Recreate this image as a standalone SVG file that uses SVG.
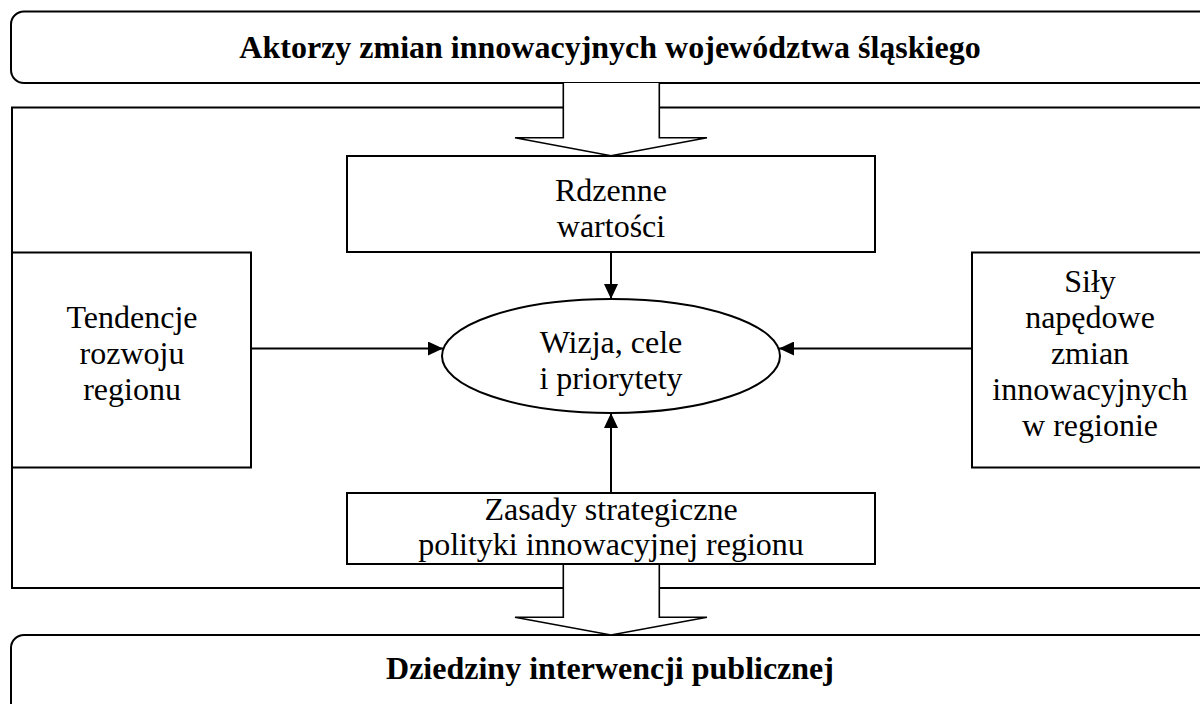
<svg xmlns="http://www.w3.org/2000/svg" width="1200" height="704" viewBox="0 0 1200 704">
<style>
.box{fill:#fff;stroke:#000;stroke-width:2}
.blk{fill:#fff;stroke:#000;stroke-width:1.6;stroke-linejoin:miter}
.t{font-family:"Liberation Serif","Times New Roman",serif;font-size:32px;fill:#000;text-anchor:middle}
.b{font-weight:bold}
.c{stroke:#000;stroke-width:2;fill:none}
</style>
<defs>
<marker id="ah" markerWidth="16" markerHeight="14" refX="15" refY="7" orient="auto" markerUnits="userSpaceOnUse">
<path d="M0,0 L15,7 L0,14 Z" fill="#000"/>
</marker>
</defs>
<g id="top">
<rect class="box" x="11" y="11.5" width="1210" height="71.5" rx="13"/>
<text class="t b" x="610" y="58">Aktorzy zmian innowacyjnych województwa śląskiego</text>
</g>
<g id="outer">
<rect class="box" x="12" y="107.5" width="1210" height="480.5"/>
</g>
<g id="bottom">
<rect class="box" x="11" y="635" width="1210" height="90" rx="13"/>
<text class="t b" x="610" y="679">Dziedziny interwencji publicznej</text>
</g>
<g id="arrow-top">
<path class="blk" d="M563.3,83 V137.7 H515 L611,155.7 L707,137.7 H659.3 V83"/>
</g>
<g id="arrow-bottom">
<path class="blk" d="M563.3,564 V617.3 H515 L611,635 L707,617.3 H659.3 V564"/>
</g>
<g id="rdzenne">
<rect class="box" x="347" y="156" width="528" height="96"/>
<text class="t" x="611" y="201">Rdzenne</text>
<text class="t" x="611" y="237">wartości</text>
</g>
<g id="tendencje">
<rect class="box" x="12" y="252.5" width="239" height="215"/>
<text class="t" x="132" y="328">Tendencje</text>
<text class="t" x="132" y="364">rozwoju</text>
<text class="t" x="132" y="400">regionu</text>
</g>
<g id="sily">
<rect class="box" x="972" y="252.5" width="250" height="215"/>
<text class="t" x="1090" y="292">Siły</text>
<text class="t" x="1090" y="328">napędowe</text>
<text class="t" x="1090" y="364">zmian</text>
<text class="t" x="1090" y="400">innowacyjnych</text>
<text class="t" x="1090" y="436">w regionie</text>
</g>
<g id="wizja">
<ellipse class="box" cx="611" cy="356" rx="169" ry="57"/>
<text class="t" x="611" y="353">Wizja, cele</text>
<text class="t" x="611" y="389">i priorytety</text>
</g>
<g id="zasady">
<rect class="box" x="347" y="493" width="528" height="71"/>
<text class="t" x="611" y="520">Zasady strategiczne</text>
<text class="t" x="611" y="555">polityki innowacyjnej regionu</text>
</g>
<g id="connectors">
<line class="c" x1="611" y1="252" x2="611" y2="299" marker-end="url(#ah)"/>
<line class="c" x1="611" y1="493" x2="611" y2="413" marker-end="url(#ah)"/>
<line class="c" x1="251" y1="348.5" x2="443" y2="348.5" marker-end="url(#ah)"/>
<line class="c" x1="972" y1="348.5" x2="779" y2="348.5" marker-end="url(#ah)"/>
</g>
</svg>
